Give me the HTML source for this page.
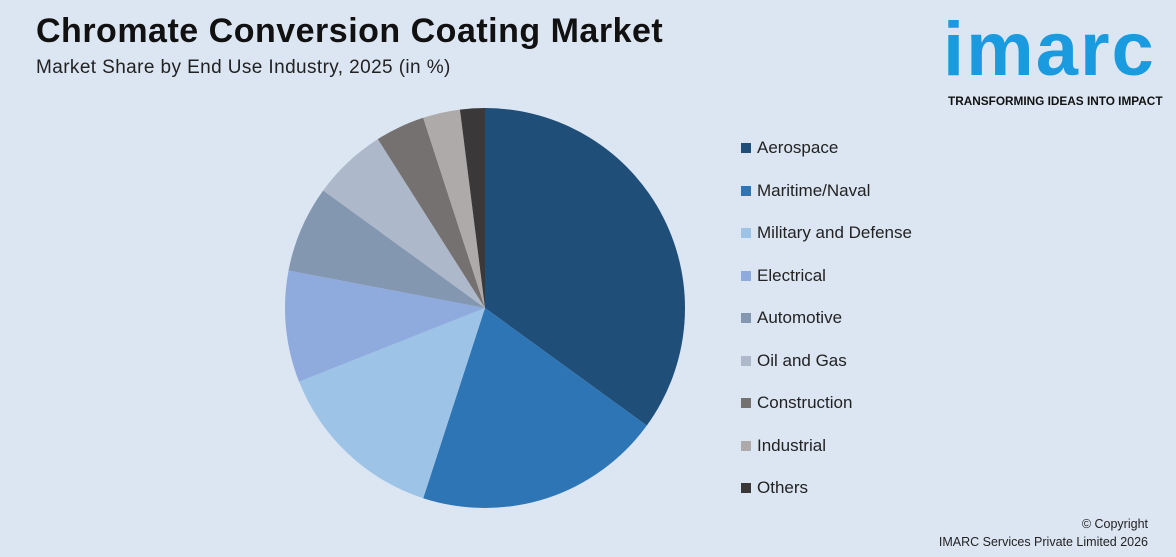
<!DOCTYPE html>
<html><head><meta charset="utf-8"><style>
body{margin:0;width:1176px;height:557px;background:#dce6f2;font-family:"Liberation Sans",Arial,sans-serif;position:relative;overflow:hidden}
.t{position:absolute;left:36px;top:12px;font-size:34px;font-weight:bold;color:#111;letter-spacing:0.5px}
.s{position:absolute;left:36px;top:57px;font-size:19px;color:#222;letter-spacing:0.4px}
.logo{position:absolute;left:943px;top:6px;font-size:76px;font-weight:bold;color:#1a9be0;letter-spacing:2px}
.tag{position:absolute;left:948px;top:94px;font-size:11.8px;font-weight:bold;color:#111}
.cp{position:absolute;right:28px;top:515px;font-size:12.5px;color:#222;text-align:right;line-height:18px}
.leg{position:absolute;left:741px;font-size:17px;color:#222}
.leg span{display:inline-block;width:10px;height:10px;margin-right:6px;vertical-align:0px}
</style></head><body>
<div class="t">Chromate Conversion Coating Market</div>
<div class="s">Market Share by End Use Industry, 2025 (in %)</div>
<div class="logo">imarc</div>
<div class="tag">TRANSFORMING IDEAS INTO IMPACT</div>
<div class="cp">© Copyright<br>IMARC Services Private Limited 2026</div>
<svg id="pie" width="1176" height="557" style="position:absolute;left:0;top:0"></svg>
<div id="legend"></div>
<script>
const categories=["Aerospace","Maritime/Naval","Military and Defense","Electrical","Automotive","Oil and Gas","Construction","Industrial","Others"];
const shares=[35,20,14,9,7,6,4,3,2];
const colors=["#1f4e79","#2e75b6","#9dc3e6","#8faadc","#8497b0","#adb9ca","#767171","#aeaaaa","#3a3838"];
const svg=document.getElementById('pie');
const cx=485,cy=308,r=200;
const total=shares.reduce((a,b)=>a+b,0);
let a0=0;
function pt(a){return [cx+r*Math.sin(a),cy-r*Math.cos(a)];}
shares.forEach((v,i)=>{
  const a1=a0+v/total*2*Math.PI;
  const p0=pt(a0),p1=pt(a1);
  const large=(a1-a0)>Math.PI?1:0;
  const p=document.createElementNS('http://www.w3.org/2000/svg','path');
  p.setAttribute('d',`M${cx},${cy}L${p0[0]},${p0[1]}A${r},${r} 0 ${large} 1 ${p1[0]},${p1[1]}Z`);
  p.setAttribute('fill',colors[i]);
  
  
  svg.appendChild(p);
  a0=a1;
});
const lg=document.getElementById('legend');
categories.forEach((c,i)=>{
  const d=document.createElement('div');
  d.className='leg';
  d.style.top=(138+i*42.5)+'px';
  d.innerHTML=`<span style="background:${colors[i]}"></span>${c}`;
  
  
  lg.appendChild(d);
});
</script>
</body></html>
